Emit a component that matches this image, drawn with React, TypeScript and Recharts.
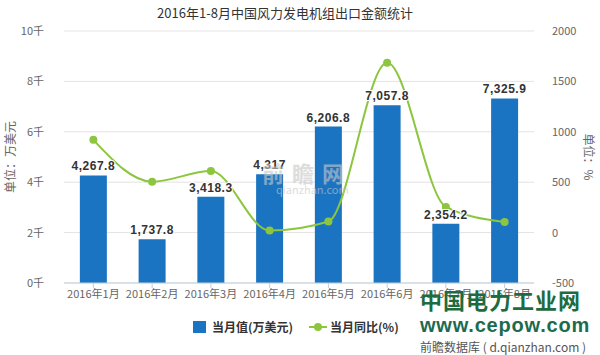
import { ComposedChart, Bar, Line, XAxis, YAxis, CartesianGrid, LabelList } from 'recharts'

const MONTHS = ['2016年1月', '2016年2月', '2016年3月', '2016年4月', '2016年5月', '2016年6月', '2016年7月', '2016年8月']
const VALUES = [4267.8, 1737.8, 3418.3, 4317, 6206.8, 7057.8, 2354.2, 7325.9]
const YOY = [920, 505, 610, 20, 110, 1685, 255, 105]
const LEFT_TICKS = [0, 2000, 4000, 6000, 8000, 10000]
const RIGHT_TICKS = [-500, 0, 500, 1000, 1500, 2000]

const BAR_COLOR = '#1b74c1'
const LINE_COLOR = '#8cc63f'
const FONT = '"Noto Sans CJK SC", "Noto Sans", sans-serif'

const data = MONTHS.map((m, i) => ({ month: m, value: VALUES[i], yoy: YOY[i] }))

const tickStyle = { fontSize: 11, fill: '#666', fontFamily: FONT }

export default function App() {
  return (
    <div style={{ position: 'absolute', left: 0, top: 0, width: 600, height: 355, background: '#fff', fontFamily: FONT }}>
      <div style={{ position: 'absolute', left: 0, width: 570, top: 3, textAlign: 'center', fontSize: 13, color: '#333' }}>
        2016年1-8月中国风力发电机组出口金额统计
      </div>

      <ComposedChart
        width={600}
        height={355}
        data={data}
        margin={{ top: 31, right: 0, bottom: 42, left: 0 }}
        barCategoryGap="27%"
        style={{ position: 'absolute', left: 0, top: 0 }}
      >
        <CartesianGrid yAxisId="left" vertical={false} stroke="#e3e3e3" />
        <XAxis
          dataKey="month"
          height={30}
          tick={tickStyle}
          tickLine={{ stroke: '#c0d0e0' }}
          tickSize={5}
          axisLine={{ stroke: '#c0d0e0' }}
          interval={0}
        />
        <YAxis
          yAxisId="left"
          width={64}
          domain={[0, 10000]}
          ticks={LEFT_TICKS}
          tickFormatter={(v: number) => `${v / 1000}千`}
          tick={tickStyle}
          axisLine={false}
          tickLine={false}
          tickMargin={14}
          label={{ value: '单位：万美元', angle: -90, position: 'insideLeft', offset: 11, style: { fontSize: 12, fill: '#666', fontFamily: FONT, textAnchor: 'middle' } }}
        />
        <YAxis
          yAxisId="right"
          orientation="right"
          width={66}
          domain={[-500, 2000]}
          ticks={RIGHT_TICKS}
          tick={{ ...tickStyle, textAnchor: 'start' }}
          axisLine={false}
          tickLine={false}
          tickMargin={12}
          label={{ value: '单位：%', angle: 90, position: 'insideRight', offset: 12, style: { fontSize: 12, fill: '#666', fontFamily: FONT, textAnchor: 'middle' } }}
        />
        <Bar yAxisId="left" dataKey="value" fill={BAR_COLOR} isAnimationActive={false}>
          <LabelList
            dataKey="value"
            position="top"
            formatter={(v: number) => v.toLocaleString('en-US')}
            style={{ fontSize: 12, fontWeight: 'bold', fill: '#333', fontFamily: '"Liberation Sans", Arial, sans-serif', stroke: '#fff', strokeWidth: 2, paintOrder: 'stroke', letterSpacing: 0.5 }}
          />
        </Bar>
        <Line
          yAxisId="right"
          dataKey="yoy"
          type="monotone"
          stroke={LINE_COLOR}
          strokeWidth={2}
          dot={{ r: 4, fill: LINE_COLOR, stroke: LINE_COLOR, strokeWidth: 0 }}
          isAnimationActive={false}
        />
      </ComposedChart>

      {/* faint qianzhan watermark over the plot */}
      <div style={{ position: 'absolute', left: 262, top: 156, color: '#c8c8c8', opacity: 0.6, fontSize: 22, fontWeight: 'bold', letterSpacing: 8, pointerEvents: 'none' }}>前瞻网</div>
      <div style={{ position: 'absolute', left: 276, top: 181, color: '#c8c8c8', opacity: 0.6, fontSize: 11, pointerEvents: 'none' }}>qianzhan.com</div>

      <div style={{ position: 'absolute', top: 318, left: 193, display: 'flex', alignItems: 'center', fontSize: 12, fontWeight: 'bold', color: '#333' }}>
        <span style={{ display: 'inline-block', width: 13, height: 12, background: BAR_COLOR, marginRight: 6 }} />
        <span>当月值(万美元)</span>
        <svg width={18} height={12} style={{ marginLeft: 16, marginRight: 3 }}>
          <line x1={0} y1={6} x2={18} y2={6} stroke={LINE_COLOR} strokeWidth={2} />
          <circle cx={9} cy={6} r={4} fill={LINE_COLOR} />
        </svg>
        <span>当月同比(%)</span>
      </div>

      <div style={{ position: 'absolute', left: 420, top: 283, fontSize: 22, fontWeight: 'bold', color: '#1d6b3f', letterSpacing: 1 }}>中国电力工业网</div>
      <div style={{ position: 'absolute', left: 420, top: 314, fontSize: 20, fontWeight: 'bold', color: '#1d6b4f', letterSpacing: 0.8, fontFamily: '"Liberation Sans", Arial, sans-serif' }}>www.cepow.com</div>
      <div style={{ position: 'absolute', left: 420, top: 338, fontSize: 12, color: '#555' }}>前瞻数据库 ( d.qianzhan.com )</div>
    </div>
  )
}
